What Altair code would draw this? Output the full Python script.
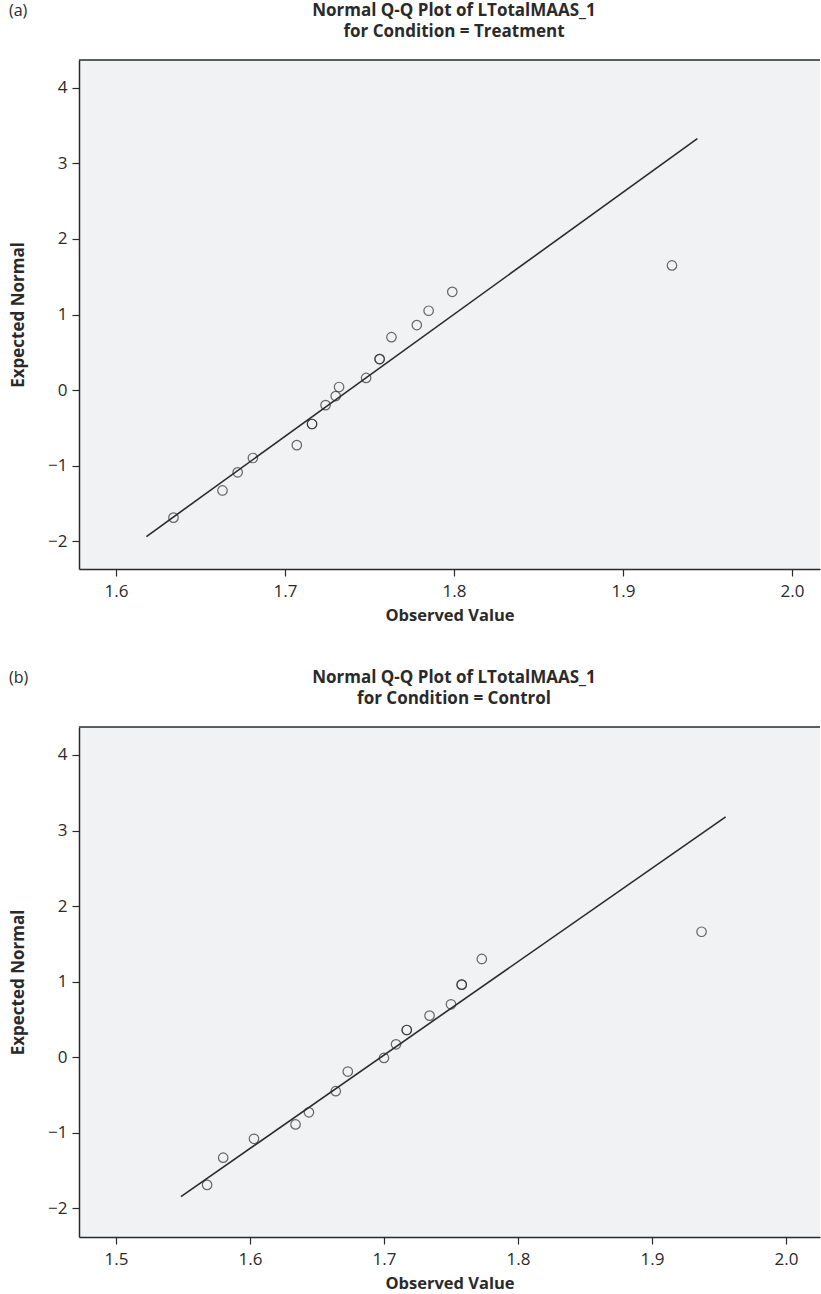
import altair as alt
import pandas as pd

# ---- data ----
treat_obs = [1.634, 1.663, 1.672, 1.681, 1.707, 1.716, 1.716, 1.724, 1.730, 1.732,
             1.748, 1.756, 1.756, 1.763, 1.778, 1.785, 1.799, 1.929]
treat_exp = [-1.69, -1.33, -1.09, -0.90, -0.73, -0.45, -0.45, -0.20, -0.08, 0.04,
             0.16, 0.41, 0.41, 0.70, 0.86, 1.05, 1.30, 1.65]
treat_line_obs = [1.618, 1.944]
treat_line_exp = [-1.94, 3.33]

ctrl_obs = [1.568, 1.580, 1.603, 1.634, 1.644, 1.664, 1.673, 1.700, 1.709, 1.717,
            1.717, 1.734, 1.750, 1.758, 1.758, 1.773, 1.937]
ctrl_exp = [-1.69, -1.33, -1.08, -0.89, -0.73, -0.45, -0.19, -0.01, 0.17, 0.36,
            0.36, 0.55, 0.70, 0.96, 0.96, 1.30, 1.66]
ctrl_line_obs = [1.5485, 1.955]
ctrl_line_exp = [-1.845, 3.18]

treat_xticks = [1.6, 1.7, 1.8, 1.9, 2.0]
ctrl_xticks = [1.5, 1.6, 1.7, 1.8, 1.9, 2.0]
y_ticks = [-2, -1, 0, 1, 2, 3, 4]

title_line1 = "Normal Q-Q Plot of LTotalMAAS_1"

FONT = "Open Sans"
INK = "#2a2a2a"
W = 741


def panel(obs, exp, lobs, lexp, xdom, ydom, xticks, h, title2, tag):
    pts = pd.DataFrame({"Observed": obs, "Expected": exp})
    ln = pd.DataFrame({"Observed": lobs, "Expected": lexp})
    one = pd.DataFrame({"k": [0]})
    xs = alt.Scale(domain=xdom, nice=False, zero=False)
    ys = alt.Scale(domain=ydom, nice=False, zero=False)
    xax = alt.Axis(values=xticks, format=".1f", title="Observed Value", grid=False,
                   tickSize=7, labelPadding=7, titlePadding=8, titleFontSize=16.5)
    yax = alt.Axis(values=y_ticks, format="d", title="Expected Normal", grid=False,
                   tickSize=7, labelPadding=5, titlePadding=20)
    line = alt.Chart(ln).mark_line(color=INK, strokeWidth=1.6).encode(
        x=alt.X("Observed:Q", scale=xs, axis=xax),
        y=alt.Y("Expected:Q", scale=ys, axis=yax),
    )
    dots = alt.Chart(pts).mark_point(shape="circle", filled=False, size=90,
                                     color=INK, strokeWidth=1.2).encode(
        x=alt.X("Observed:Q", scale=xs),
        y=alt.Y("Expected:Q", scale=ys),
    )
    top = alt.Chart(one).mark_rule(color=INK, strokeWidth=1.5).encode(
        x=alt.value(0), x2=alt.value(W), y=alt.value(0)
    )
    lab = alt.Chart(one).mark_text(text=tag, align="left", baseline="middle",
                                   font=FONT, fontSize=16, color=INK).encode(
        x=alt.value(-70), y=alt.value(-49)
    )
    t1 = alt.Chart(one).mark_text(text=title_line1, align="center", baseline="middle",
                                  font=FONT, fontSize=17, fontWeight="bold",
                                  color=INK).encode(
        x=alt.value(375), y=alt.value(-49)
    )
    t2 = alt.Chart(one).mark_text(text=title2, align="center", baseline="middle",
                                  font=FONT, fontSize=17, fontWeight="bold",
                                  color=INK).encode(
        x=alt.value(375), y=alt.value(-28)
    )
    return alt.layer(line, dots, top, lab, t1, t2).properties(width=W, height=h)


p1 = panel(treat_obs, treat_exp, treat_line_obs, treat_line_exp,
           [1.5781, 2.0166], [-2.37, 4.37], treat_xticks, 509,
           "for Condition = Treatment", "(a)")
p2 = panel(ctrl_obs, ctrl_exp, ctrl_line_obs, ctrl_line_exp,
           [1.4724, 2.0254], [-2.38, 4.37], ctrl_xticks, 510,
           "for Condition = Control", "(b)")

chart = alt.vconcat(p1, p2, spacing=45).properties(
    padding={"left": 9, "top": 2, "right": 0, "bottom": 0},
    background="white",
).configure_view(
    fill="#f1f2f4", stroke=None
).configure_axis(
    domainColor=INK, domainWidth=1.5, tickColor=INK, tickWidth=1.2,
    labelFont=FONT, labelFontSize=17, labelColor=INK, labelFontWeight="normal",
    titleFont=FONT, titleFontSize=17, titleFontWeight="bold", titleColor=INK,
)

chart.save("out.html", embed_options={"renderer": "svg", "actions": False})
